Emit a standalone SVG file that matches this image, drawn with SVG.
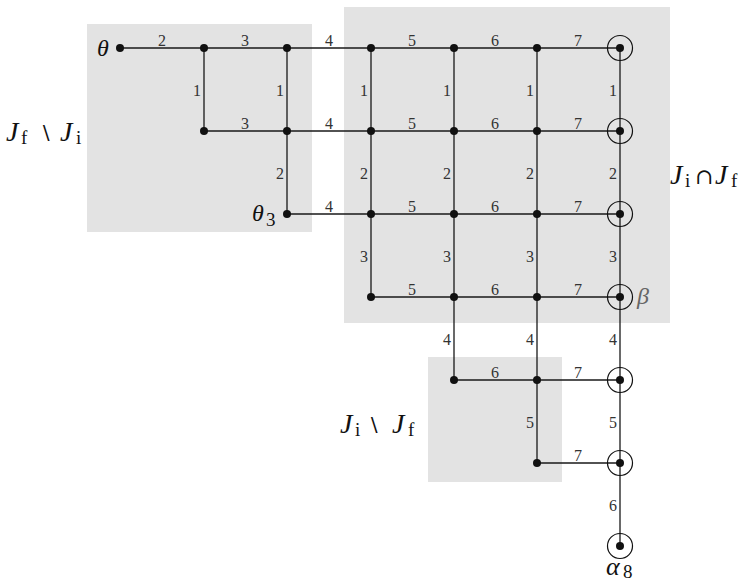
<svg xmlns="http://www.w3.org/2000/svg" width="746" height="582" viewBox="0 0 746 582">
<style>
.box{fill:#e3e3e3}
.e{stroke:#1a1a1a;stroke-width:1.3;fill:none}
.d{fill:#111}
.c{fill:none;stroke:#111;stroke-width:1.2}
</style>
<g id="regions">
<rect class="box" x="87" y="24" width="225" height="208"/>
<rect class="box" x="344" y="7" width="326" height="316"/>
<rect class="box" x="428" y="357" width="134" height="125"/>
</g>
<g id="connectors">
<path class="e" d="M120 48H620M204 131H620M287 214H620M371 297H620M454 380H620M537 463H620"/>
<path class="e" d="M204 48V131M287 48V214M371 48V297M454 48V380M537 48V463M620 48V546"/>
</g>
<g id="edge-labels" font-family="'Liberation Serif', 'DejaVu Serif', serif" font-size="16" fill="#333">
<g text-anchor="middle">
<text x="162" y="46">2</text><text x="245" y="46">3</text><text x="329" y="46">4</text><text x="412" y="46">5</text><text x="495" y="46">6</text><text x="578" y="46">7</text>
<text x="245" y="129">3</text><text x="329" y="129">4</text><text x="412" y="129">5</text><text x="495" y="129">6</text><text x="578" y="129">7</text>
<text x="329" y="212">4</text><text x="412" y="212">5</text><text x="495" y="212">6</text><text x="578" y="212">7</text>
<text x="412" y="295">5</text><text x="495" y="295">6</text><text x="578" y="295">7</text>
<text x="495" y="378">6</text><text x="578" y="378">7</text>
<text x="578" y="461">7</text>
</g>
<g text-anchor="end">
<text x="201" y="96">1</text><text x="284" y="96">1</text><text x="368" y="96">1</text><text x="451" y="96">1</text><text x="534" y="96">1</text><text x="617" y="96">1</text>
<text x="284" y="179">2</text><text x="368" y="179">2</text><text x="451" y="179">2</text><text x="534" y="179">2</text><text x="617" y="179">2</text>
<text x="368" y="262">3</text><text x="451" y="262">3</text><text x="534" y="262">3</text><text x="617" y="262">3</text>
<text x="451" y="345">4</text><text x="534" y="345">4</text><text x="617" y="345">4</text>
<text x="534" y="428">5</text><text x="617" y="428">5</text>
<text x="617" y="511">6</text>
</g>
</g>
<g font-family="'Liberation Serif', 'DejaVu Serif', serif" font-size="24" fill="#111">
<g id="n-theta"><circle class="d" cx="120" cy="48" r="4"/><text font-style="italic" x="97" y="56">θ</text></g>
<g id="n-204-48"><circle class="d" cx="204" cy="48" r="4"/></g>
<g id="n-287-48"><circle class="d" cx="287" cy="48" r="4"/></g>
<g id="n-371-48"><circle class="d" cx="371" cy="48" r="4"/></g>
<g id="n-454-48"><circle class="d" cx="454" cy="48" r="4"/></g>
<g id="n-537-48"><circle class="d" cx="537" cy="48" r="4"/></g>
<g id="n-620-48"><circle class="d" cx="620" cy="48" r="4"/><circle class="c" cx="620" cy="48" r="12.5"/></g>
<g id="n-204-131"><circle class="d" cx="204" cy="131" r="4"/></g>
<g id="n-287-131"><circle class="d" cx="287" cy="131" r="4"/></g>
<g id="n-371-131"><circle class="d" cx="371" cy="131" r="4"/></g>
<g id="n-454-131"><circle class="d" cx="454" cy="131" r="4"/></g>
<g id="n-537-131"><circle class="d" cx="537" cy="131" r="4"/></g>
<g id="n-620-131"><circle class="d" cx="620" cy="131" r="4"/><circle class="c" cx="620" cy="131" r="12.5"/></g>
<g id="n-theta3"><circle class="d" cx="287" cy="214" r="4"/><text x="252" y="221"><tspan font-style="italic">θ</tspan><tspan x="266" font-size="19" dy="5">3</tspan></text></g>
<g id="n-371-214"><circle class="d" cx="371" cy="214" r="4"/></g>
<g id="n-454-214"><circle class="d" cx="454" cy="214" r="4"/></g>
<g id="n-537-214"><circle class="d" cx="537" cy="214" r="4"/></g>
<g id="n-620-214"><circle class="d" cx="620" cy="214" r="4"/><circle class="c" cx="620" cy="214" r="12.5"/></g>
<g id="n-371-297"><circle class="d" cx="371" cy="297" r="4"/></g>
<g id="n-454-297"><circle class="d" cx="454" cy="297" r="4"/></g>
<g id="n-537-297"><circle class="d" cx="537" cy="297" r="4"/></g>
<g id="n-beta"><circle class="d" cx="620" cy="297" r="4"/><circle class="c" cx="620" cy="297" r="12.5"/><text font-style="italic" x="637" y="304" fill="#666">β</text></g>
<g id="n-454-380"><circle class="d" cx="454" cy="380" r="4"/></g>
<g id="n-537-380"><circle class="d" cx="537" cy="380" r="4"/></g>
<g id="n-620-380"><circle class="d" cx="620" cy="380" r="4"/><circle class="c" cx="620" cy="380" r="12.5"/></g>
<g id="n-537-463"><circle class="d" cx="537" cy="463" r="4"/></g>
<g id="n-620-463"><circle class="d" cx="620" cy="463" r="4"/><circle class="c" cx="620" cy="463" r="12.5"/></g>
<g id="n-alpha8"><circle class="d" cx="620" cy="546" r="4"/><circle class="c" cx="620" cy="546" r="12.5"/><text x="606" y="575"><tspan font-style="italic" font-size="26">α</tspan><tspan x="623" font-size="19" dy="3">8</tspan></text></g>
<g id="set-labels">
<text y="141"><tspan font-style="italic" font-size="28" x="6">J</tspan><tspan x="21" font-size="19" dy="3">f</tspan><tspan x="39" dy="-3" font-family="'DejaVu Serif', serif" font-size="20">∖</tspan><tspan x="60" font-style="italic" font-size="28">J</tspan><tspan x="76" font-size="19" dy="3">i</tspan></text>
<text y="184"><tspan font-style="italic" font-size="28" x="670">J</tspan><tspan x="685" font-size="19" dy="3">i</tspan><tspan x="695" dy="-3" font-family="'DejaVu Serif', serif" font-size="22">∩</tspan><tspan x="715" font-style="italic" font-size="28">J</tspan><tspan x="731" font-size="19" dy="3">f</tspan></text>
<text y="433"><tspan font-style="italic" font-size="28" x="340">J</tspan><tspan x="355" font-size="19" dy="3">i</tspan><tspan x="367" dy="-3" font-family="'DejaVu Serif', serif" font-size="20">∖</tspan><tspan x="392" font-style="italic" font-size="28">J</tspan><tspan x="408" font-size="19" dy="3">f</tspan></text>
</g>
</g>
</svg>
